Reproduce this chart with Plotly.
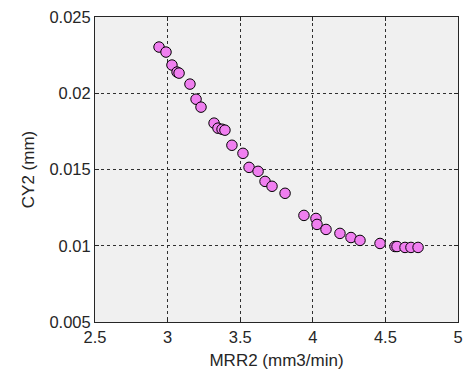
import plotly.graph_objects as go

mrr2 = [2.941, 2.989, 3.030, 3.065, 3.079, 3.154, 3.196, 3.230, 3.320, 3.347,
        3.375, 3.395, 3.443, 3.519, 3.561, 3.623, 3.671, 3.719, 3.809, 3.939,
        4.022, 4.029, 4.091, 4.187, 4.263, 4.325, 4.463, 4.566, 4.580, 4.635,
        4.676, 4.725]
cy2 = [0.02303, 0.02270, 0.02185, 0.02139, 0.02132, 0.02060, 0.01961, 0.01909,
       0.01804, 0.01771, 0.01764, 0.01758, 0.01659, 0.01606, 0.01514, 0.01488,
       0.01422, 0.01390, 0.01344, 0.01199, 0.01179, 0.01140, 0.01107, 0.01081,
       0.01054, 0.01035, 0.01015, 0.00995, 0.00995, 0.00989, 0.00989, 0.00989]

x_ticks = [2.5, 3, 3.5, 4, 4.5, 5]
x_labels = ["2.5", "3", "3.5", "4", "4.5", "5"]
y_ticks = [0.005, 0.01, 0.015, 0.02, 0.025]
y_labels = ["0.005", "0.01", "0.015", "0.02", "0.025"]

FONT = "Liberation Sans, Arial"
TXT = "#262626"

fig = go.Figure()
fig.add_trace(go.Scatter(
    x=mrr2, y=cy2, mode="markers",
    marker=dict(size=10.5, color="#f07ff0", line=dict(color="black", width=1)),
    showlegend=False, cliponaxis=False,
))

axis_common = dict(
    showgrid=True, gridcolor="#303030", gridwidth=1, griddash="3px,3px",
    showline=True, linecolor=TXT, linewidth=1, mirror="allticks",
    ticks="inside", ticklen=4, tickcolor=TXT, zeroline=False,
    tickfont=dict(family=FONT, size=16.5, color=TXT),
    automargin=False,
)

fig.update_xaxes(range=[2.5, 5], tickvals=x_ticks, ticktext=x_labels,
                 title=dict(text="MRR2 (mm3/min)", standoff=9,
                            font=dict(family=FONT, size=17, color=TXT)),
                 **axis_common)
fig.update_yaxes(range=[0.005, 0.025], tickvals=y_ticks, ticktext=y_labels,
                 title=dict(text="CY2 (mm)", standoff=10,
                            font=dict(family=FONT, size=17, color=TXT)),
                 **axis_common)

fig.update_layout(
    width=464, height=371,
    margin=dict(l=95, r=6, t=17, b=49),
    paper_bgcolor="white", plot_bgcolor="#f0f0f0",
)

# remove the browser's default 8px body margin so the figure fills the window
fig.write_html("out.html", config={"displayModeBar": False},
               post_script="document.body.style.margin='0px';")
